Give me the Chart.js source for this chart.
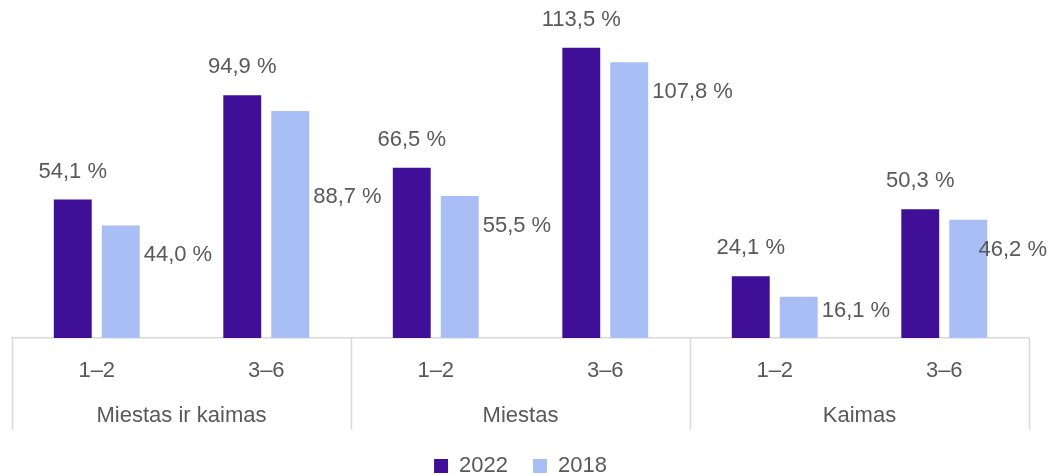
<!DOCTYPE html>
<html lang="lt">
<head>
<meta charset="utf-8">
<title>2022 / 2018</title>
<script src="https://cdn.jsdelivr.net/npm/chart.js@4.4.1/dist/chart.umd.min.js"></script>
<style>
    html, body {
        margin: 0;
        padding: 0;
        background: #ffffff;
    }
    #chartBox {
        width: 1050px;
        height: 475px;
    }
</style>
</head>
<body>
<div id="chartBox"><canvas id="barChart"></canvas></div>
<script>
// Chart data
const categories = ['1–2', '3–6', '1–2', '3–6', '1–2', '3–6'];
const groups = ['Miestas ir kaimas', 'Miestas', 'Kaimas'];
const seriesNames = ['2022', '2018'];
const values2022 = [54.1, 94.9, 66.5, 113.5, 24.1, 50.3];
const values2018 = [44.0, 88.7, 55.5, 107.8, 16.1, 46.2];

const textColor = '#595959';
const lineColor = '#D9D9D9';
const fontFamily = '"Liberation Sans", Arial, sans-serif';
const fontSize = 22;

function formatValue(v) {
    return v.toFixed(1).replace('.', ',') + ' %';
}

// Value labels: 2022 above the bar, 2018 to the right of it
const barLabels = {
    id: 'barLabels',
    afterDatasetsDraw(chart, args, opts) {
        const ctx = chart.ctx;
        ctx.save();
        ctx.font = fontSize + 'px ' + fontFamily;
        ctx.fillStyle = textColor;
        ctx.textBaseline = 'middle';

        chart.data.datasets.forEach((ds, di) => {
            const meta = chart.getDatasetMeta(di);
            meta.data.forEach((bar, i) => {
                const text = formatValue(ds.data[i]);
                if (di === 0) {
                    ctx.textAlign = 'center';
                    ctx.fillText(text, bar.x, bar.y - opts.above);
                } else {
                    let y = Math.min(bar.y + opts.beside, bar.base - opts.minGap);
                    y += (opts.nudge[i] || 0);
                    // keep the label inside the canvas
                    const w = ctx.measureText(text).width;
                    const lx = Math.min(bar.x + bar.width / 2 + 4, chart.width - w - 3);
                    ctx.textAlign = 'left';
                    ctx.fillText(text, lx, y);
                }
            });
        });
        ctx.restore();
    }
};

// Second axis level: group separators and group names
const groupAxis = {
    id: 'groupAxis',
    afterDraw(chart) {
        const x = chart.scales.x;
        const ctx = chart.ctx;
        const perGroup = categories.length / groups.length;
        const step = (x.right - x.left) / categories.length;

        ctx.save();
        ctx.strokeStyle = lineColor;
        ctx.lineWidth = 1.5;
        for (let g = 0; g <= groups.length; g++) {
            const px = Math.round(x.left + g * perGroup * step) + 0.5;
            ctx.beginPath();
            ctx.moveTo(px, x.top);
            ctx.lineTo(px, x.bottom);
            ctx.stroke();
        }

        ctx.font = fontSize + 'px ' + fontFamily;
        ctx.fillStyle = textColor;
        ctx.textAlign = 'center';
        ctx.textBaseline = 'middle';
        groups.forEach((name, g) => {
            const cx = x.left + (g + 0.5) * perGroup * step;
            ctx.fillText(name, cx, x.bottom - 14);
        });
        ctx.restore();
    }
};

const ctx = document.getElementById('barChart');
new Chart(ctx.getContext('2d'), {
    type: 'bar',
    data: {
        labels: categories,
        datasets: [{
            label: seriesNames[0],
            data: values2022,
            backgroundColor: '#3F0F97',
            borderWidth: 0
        }, {
            label: seriesNames[1],
            data: values2018,
            backgroundColor: '#AABEF6',
            borderWidth: 0
        }]
    },
    options: {
        responsive: true,
        maintainAspectRatio: false,
        animation: false,
        categoryPercentage: 0.566,
        barPercentage: 0.79,
        layout: {
            padding: { top: 31, left: 12, right: 21, bottom: -12 }
        },
        plugins: {
            legend: {
                position: 'bottom',
                labels: {
                    color: textColor,
                    font: { family: fontFamily, size: fontSize },
                    boxWidth: 14,
                    boxHeight: 14,
                    padding: 25
                }
            },
            tooltip: { enabled: false },
            barLabels: {
                above: 28,
                beside: 30,
                minGap: 27,
                nudge: { 1: 56 }
            }
        },
        scales: {
            x: {
                grid: { display: false, drawTicks: false },
                border: { display: true, color: lineColor, width: 1.5 },
                ticks: {
                    color: textColor,
                    font: { family: fontFamily, size: fontSize },
                    padding: 20,
                    maxRotation: 0
                },
                afterFit(scale) {
                    scale.height = 92;
                }
            },
            y: {
                display: false,
                min: 0,
                max: 120
            }
        }
    },
    plugins: [barLabels, groupAxis]
});
</script>
</body>
</html>
